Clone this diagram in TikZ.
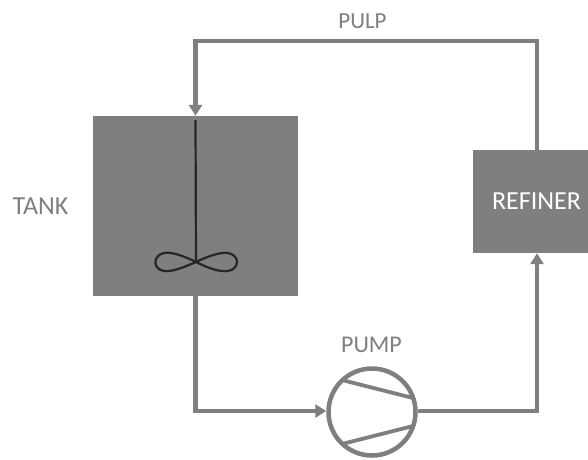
\documentclass[tikz,border=0pt]{standalone}
\usepackage{fontspec}
\setmainfont{Carlito}
\usetikzlibrary{arrows.meta,calc}
\definecolor{pgrey}{HTML}{7F7F7F}
\tikzset{
  blockbox/.style={fill=pgrey,inner sep=0pt,draw=none},
  flowline/.style={draw=pgrey,line width=4.2pt,line join=miter},
  flowtip/.style={-{Triangle[length=11pt,width=13pt]}},
  pumpring/.style={circle,draw=pgrey,line width=4.5pt,fill=white,inner sep=0pt,minimum size=87pt},
  labeltext/.style={text=pgrey,inner sep=0pt},
  mixerline/.style={draw=black!85,line width=2.2pt},
}
\begin{document}
\begin{tikzpicture}[x=1pt,y=-1pt]
\useasboundingbox (0,0) rectangle (588,459);
\node[blockbox,minimum width=205pt,minimum height=180pt] (tank) at (195.5,206) {};
\node[blockbox,minimum width=115pt,minimum height=103pt,text=white,font=\fontsize{26}{28}\selectfont] (refiner) at (530.5,201.5) {\hspace*{12pt}REFINER};
\node[pumpring] (pump) at (372,412) {};
\coordinate (topright) at (537,41);
\coordinate (topleft) at (195.5,41);
\coordinate (botleft) at (195.5,411);
\coordinate (botright) at (537,411);
\draw[flowline,flowtip] (refiner.north -| topright) -- (topright) -- (topleft) -- (tank.north);
\draw[flowline,flowtip] (tank.south) -- (botleft) -- (pump.west |- botleft);
\draw[flowline,flowtip] (pump.east |- botright) -- (botright) -- (refiner.south -| botright);
\draw[draw=pgrey,line width=3.8pt] (342,380) -- (413,398);
\draw[draw=pgrey,line width=3.8pt] (342,444) -- (413,426);
\coordinate (hub) at (196,262);
\draw[mixerline] (195.5,120) -- (hub);
\draw[mixerline] (hub) .. controls (180,254) and (170,252) .. (164,253) .. controls (153,255) and (152,269) .. (164,271) .. controls (172,272) and (182,268) .. (hub)
  .. controls (210,255) and (222,252) .. (228,253) .. controls (240,255) and (240,269) .. (228,271) .. controls (220,272) and (210,269) .. (hub);
\node[labeltext,font=\fontsize{23}{26}\selectfont] (pulp) at (362.5,21) {PULP};
\node[labeltext,font=\fontsize{26}{28}\selectfont] (tanklabel) at (40.5,206) {TANK};
\node[labeltext,font=\fontsize{24}{26}\selectfont] (pumplabel) at (371.5,345) {PUMP};
\end{tikzpicture}
\end{document}
